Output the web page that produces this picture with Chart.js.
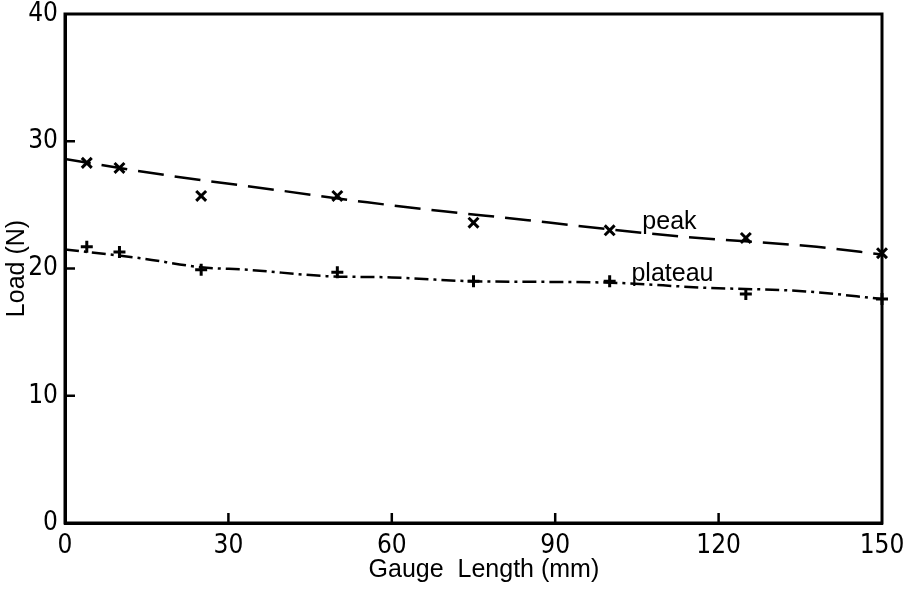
<!DOCTYPE html>
<html>
<head>
<meta charset="utf-8">
<script src="https://cdn.jsdelivr.net/npm/chart.js@4.4.1/dist/chart.umd.min.js"></script>
<style>
  html, body { margin: 0; padding: 0; background: #fff; }
  #wrap { width: 903px; height: 591px; }
</style>
</head>
<body>
<div id="wrap"><canvas id="c" width="903" height="591"></canvas></div>
<script>
// ---- data ----
const gaugeLengths = [4, 10, 25, 50, 75, 100, 125, 150];
const peakLoads    = [28.3, 27.9, 25.7, 25.7, 23.6, 23.0, 22.4, 21.2];
const plateauLoads = [21.7, 21.3, 19.9, 19.7, 19.0, 19.0, 18.0, 17.6];

const peakFitX     = [0, 17.5, 40, 55.5, 69.5, 85, 93, 113.6, 138, 150];
const peakFitY     = [28.6, 27.4, 26.1, 25.2, 24.5, 23.8, 23.4, 22.5, 21.7, 21.1];
const plateauFitX  = [0, 14, 25, 33.5, 48, 60, 75, 99, 117, 136, 150];
const plateauFitY  = [21.5, 20.8, 20.1, 19.9, 19.4, 19.3, 19.0, 18.9, 18.5, 18.2, 17.6];

const xTicks = [0, 30, 60, 90, 120, 150];
const yTicks = [0, 10, 20, 30, 40];

const curveLabels = [
  { text: 'peak',    x: 106, y: 23.1 },
  { text: 'plateau', x: 104, y: 19.0 }
];

const TICK_FONT = "'Liberation Sans Narrow', 'DejaVu Sans Condensed', 'Liberation Sans', sans-serif";
const TEXT_FONT = "'Liberation Sans', Arial, sans-serif";

const toXY = (xs, ys) => xs.map((x, i) => ({ x: x, y: ys[i] }));

const framePlugin = {
  id: 'frame',
  afterDraw(chart) {
    const { ctx, chartArea: a, scales } = chart;
    ctx.save();
    ctx.strokeStyle = '#000';
    ctx.lineWidth = 3;
    ctx.strokeRect(a.left, a.top, a.right - a.left, a.bottom - a.top);
    // inward tick marks
    ctx.lineWidth = 2.5;
    yTicks.forEach(v => {
      if (v === scales.y.min || v === scales.y.max) return;
      const py = scales.y.getPixelForValue(v);
      ctx.beginPath(); ctx.moveTo(a.left, py); ctx.lineTo(a.left + 10, py); ctx.stroke();
    });
    xTicks.forEach(v => {
      if (v === scales.x.min || v === scales.x.max) return;
      const px = scales.x.getPixelForValue(v);
      ctx.beginPath(); ctx.moveTo(px, a.bottom); ctx.lineTo(px, a.bottom - 10); ctx.stroke();
    });
    // curve labels
    ctx.fillStyle = '#000';
    ctx.font = '25px ' + TEXT_FONT;
    ctx.textAlign = 'left';
    ctx.textBaseline = 'alphabetic';
    curveLabels.forEach(l => {
      ctx.fillText(l.text, scales.x.getPixelForValue(l.x), scales.y.getPixelForValue(l.y));
    });
    ctx.restore();
  }
};

new Chart(document.getElementById('c'), {
  type: 'scatter',
  data: {
    datasets: [
      {
        label: 'peak fit',
        data: toXY(peakFitX, peakFitY),
        showLine: true,
        pointRadius: 0,
        borderColor: '#000',
        borderWidth: 2.5,
        borderDash: [26, 11],
        cubicInterpolationMode: 'monotone',
        fill: false
      },
      {
        label: 'plateau fit',
        data: toXY(plateauFitX, plateauFitY),
        showLine: true,
        pointRadius: 0,
        borderColor: '#000',
        borderWidth: 2.5,
        borderDash: [14, 5, 3, 5],
        cubicInterpolationMode: 'monotone',
        fill: false
      },
      {
        label: 'peak',
        data: toXY(gaugeLengths, peakLoads),
        showLine: false,
        pointStyle: 'crossRot',
        pointRadius: 7,
        pointBorderWidth: 3,
        borderColor: '#000',
        backgroundColor: '#000',
        clip: false
      },
      {
        label: 'plateau',
        data: toXY(gaugeLengths, plateauLoads),
        showLine: false,
        pointStyle: 'cross',
        pointRadius: 6,
        pointBorderWidth: 3,
        borderColor: '#000',
        backgroundColor: '#000',
        clip: false
      }
    ]
  },
  options: {
    responsive: false,
    animation: false,
    layout: { padding: { left: 0, top: 14, right: 21, bottom: 0 } },
    plugins: { legend: { display: false }, tooltip: { enabled: false } },
    scales: {
      x: {
        type: 'linear',
        min: 0, max: 150,
        afterBuildTicks: s => { s.ticks = xTicks.map(v => ({ value: v })); },
        afterFit: s => { s.height = 68; s.paddingLeft = 0; s.paddingRight = 0; },
        grid: { display: false, drawTicks: false },
        border: { display: true, color: '#000', width: 3 },
        ticks: { color: '#000', padding: 8, font: { family: TICK_FONT, size: 26 }, maxRotation: 0 },
        title: { display: true, text: '   Gauge  Length (mm)', color: '#000', padding: { top: 0, bottom: 6 }, font: { family: TEXT_FONT, size: 25 } }
      },
      y: {
        type: 'linear',
        min: 0, max: 40,
        afterBuildTicks: s => { s.ticks = yTicks.map(v => ({ value: v })); },
        afterFit: s => { s.width = 65; s.paddingTop = 0; s.paddingBottom = 0; },
        grid: { display: false, drawTicks: false },
        border: { display: true, color: '#000', width: 3 },
        ticks: { color: '#000', padding: 7, font: { family: TICK_FONT, size: 26 } },
        title: { display: true, text: 'Load (N)', color: '#000', padding: { top: 2, bottom: 0 }, font: { family: TEXT_FONT, size: 25 } }
      }
    }
  },
  plugins: [framePlugin]
});
</script>
</body>
</html>
